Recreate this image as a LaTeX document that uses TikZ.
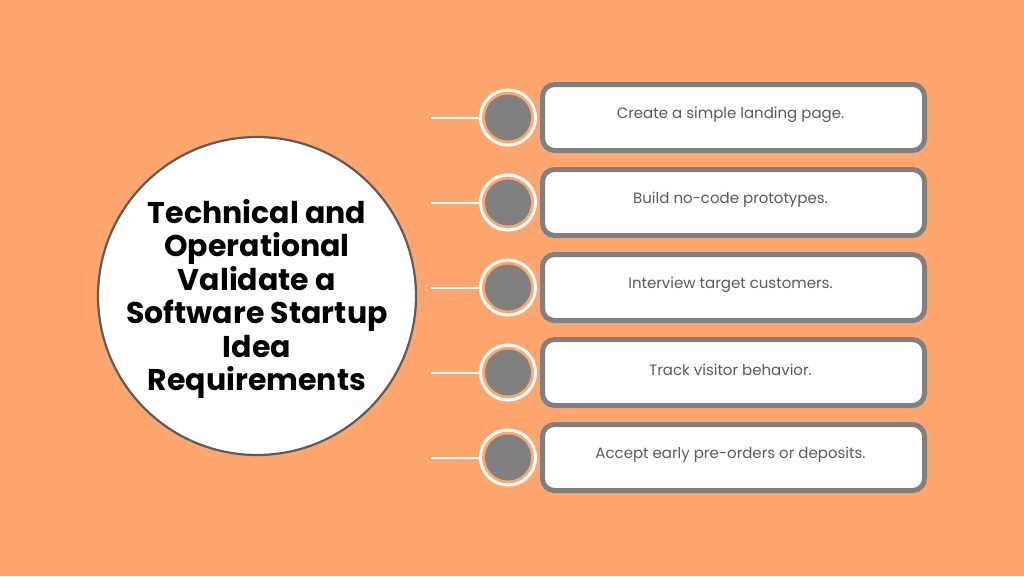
\documentclass[tikz,border=0pt]{standalone}
\usepackage{fontspec}
\setmainfont{Poppins}
\definecolor{bg}{HTML}{FFA66F}
\definecolor{boxgray}{HTML}{808080}
\definecolor{txtgray}{HTML}{5A5A5A}
\definecolor{ringgray}{HTML}{5C5C5C}
\tikzset{
  itembox/.style={draw=boxgray, line width=5pt, fill=white, rounded corners=12pt,
    minimum width=382pt, minimum height=66pt, inner sep=0pt},
  itemtext/.style={text=txtgray, font=\fontsize{15}{18}\selectfont, inner sep=0pt},
  ring/.style={circle, draw=white, line width=3pt, minimum size=55pt, inner sep=0pt},
  dotc/.style={circle, fill=boxgray, minimum size=46pt, inner sep=0pt},
  link/.style={draw=white, line width=2pt},
  titlecircle/.style={circle, draw=ringgray, line width=2.2pt, fill=white, minimum size=318pt,
    inner sep=0pt},
  titletext/.style={align=center, font=\bfseries\fontsize{30}{33.5}\selectfont, text=black, inner sep=0pt}
}
\begin{document}
\begin{tikzpicture}[x=1pt,y=-1pt]
\fill[bg] (0,0) rectangle (1024,576);
\useasboundingbox (0,0) rectangle (1024,576);
\node[titlecircle] (main) at (257,296) {};
\node[titletext] (maintext) at ([yshift=-3pt]main.center) {Technical and\\Operational\\Validate a\\Software Startup\\Idea\\Requirements};
\foreach \i/\y/\t in {1/117.5/{Create a simple landing page.},
                      2/202.5/{Build no-code prototypes.},
                      3/287.5/{Interview target customers.},
                      4/372.5/{Track visitor behavior.},
                      5/457.5/{Accept early pre-orders or deposits.}}{
  \node[itembox] (box\i) at (733.5,\y) {};
  \node[itemtext] (txt\i) at ([xshift=-3pt,yshift=3pt]box\i.center) {\t};
  \node[ring] (ring\i) at (508,\y) {};
  \node[dotc] (dot\i) at (508,\y) {};
  \coordinate (end\i) at (431,\y);
  \draw[link] (end\i) -- (ring\i.west);
}
\end{tikzpicture}
\end{document}
